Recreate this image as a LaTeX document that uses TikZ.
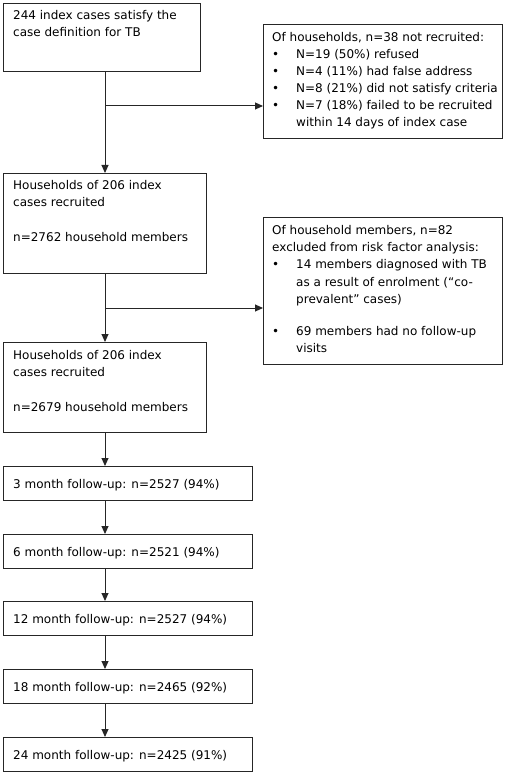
\documentclass[tikz,border=0pt]{standalone}
\usepackage{fontspec}
\setmainfont{DejaVu Sans}
\usetikzlibrary{arrows.meta}
\begin{document}
\begin{tikzpicture}[x=1pt,y=-1pt,
  box/.style={draw=black!85,line width=1pt,inner sep=0pt,anchor=north west},
  txt/.style={inner sep=0pt,anchor=base west,font=\fontsize{12}{17}\selectfont},
  arr/.style={draw=black!85,line width=1pt,-{Triangle[length=8pt,width=7pt]}}]
\useasboundingbox (0,0) rectangle (515,775);
% main boxes
\node[box,minimum width=197pt,minimum height=68pt] (b1) at (3,3) {};
\node[box,minimum width=203pt,minimum height=100pt] (b2) at (3,173) {};
\node[box,minimum width=203pt,minimum height=90pt] (b3) at (3,342) {};
\node[box,minimum width=249pt,minimum height=34pt] (f1) at (3,466) {};
\node[box,minimum width=249pt,minimum height=34pt] (f2) at (3,534) {};
\node[box,minimum width=249pt,minimum height=34pt] (f3) at (3,601) {};
\node[box,minimum width=249pt,minimum height=34pt] (f4) at (3,669) {};
\node[box,minimum width=249pt,minimum height=34pt] (f5) at (3,737) {};
% side boxes
\node[box,minimum width=239pt,minimum height=114pt] (r1) at (263,24) {};
\node[box,minimum width=239pt,minimum height=147pt] (r2) at (263,217) {};
% texts
\node[txt] (t11) at (13,20) {244 index cases satisfy the};
\node[txt] (t12) at (13,37) {case definition for TB};
\node[txt] (t21) at (13,190) {Households of 206 index};
\node[txt] (t22) at (13,207) {cases recruited};
\node[txt] (t23) at (13,242) {n=2762 household members};
\node[txt] (t31) at (13,359) {Households of 206 index};
\node[txt] (t32) at (13,376) {cases recruited};
\node[txt] (t33) at (13,411) {n=2679 household members};
\node[txt] (tf1) at (13,488) {3 month follow-up: n=2527 (94\%)};
\node[txt] (tf2) at (13,556) {6 month follow-up: n=2521 (94\%)};
\node[txt] (tf3) at (13,623) {12 month follow-up: n=2527 (94\%)};
\node[txt] (tf4) at (13,691) {18 month follow-up: n=2465 (92\%)};
\node[txt] (tf5) at (13,759) {24 month follow-up: n=2425 (91\%)};
% side box 1 text
\node[txt] (s10) at (272,42) {Of households, n=38 not recruited:};
\node[txt] (s1b1) at (272,59) {•};
\node[txt] (s11) at (296,59) {N=19 (50\%) refused};
\node[txt] (s1b2) at (272,76) {•};
\node[txt] (s12) at (296,76) {N=4 (11\%) had false address};
\node[txt] (s1b3) at (272,93) {•};
\node[txt] (s13) at (296,93) {N=8 (21\%) did not satisfy criteria};
\node[txt] (s1b4) at (272,110) {•};
\node[txt] (s14) at (296,110) {N=7 (18\%) failed to be recruited};
\node[txt] (s15) at (296,127) {within 14 days of index case};
% side box 2 text
\node[txt] (s20) at (272,235) {Of household members, n=82};
\node[txt] (s21) at (272,252) {excluded from risk factor analysis:};
\node[txt] (s2b1) at (272,269) {•};
\node[txt] (s22) at (296,269) {14 members diagnosed with TB};
\node[txt] (s23) at (296,286) {as a result of enrolment (“co-};
\node[txt] (s24) at (296,303) {prevalent” cases)};
\node[txt] (s2b2) at (272,335) {•};
\node[txt] (s25) at (296,335) {69 members had no follow-up};
\node[txt] (s26) at (296,352) {visits};
% connectors
\coordinate (v) at (105,0);
\coordinate (j1) at (105,106);
\coordinate (j2) at (105,308);
\draw[arr] (b1.south -| v) -- (b2.north -| v);
\draw[arr] (j1) -- (j1 -| r1.west);
\draw[arr] (b2.south -| v) -- (b3.north -| v);
\draw[arr] (j2) -- (j2 -| r2.west);
\draw[arr] (b3.south -| v) -- (f1.north -| v);
\draw[arr] (f1.south -| v) -- (f2.north -| v);
\draw[arr] (f2.south -| v) -- (f3.north -| v);
\draw[arr] (f3.south -| v) -- (f4.north -| v);
\draw[arr] (f4.south -| v) -- (f5.north -| v);
\end{tikzpicture}
\end{document}
